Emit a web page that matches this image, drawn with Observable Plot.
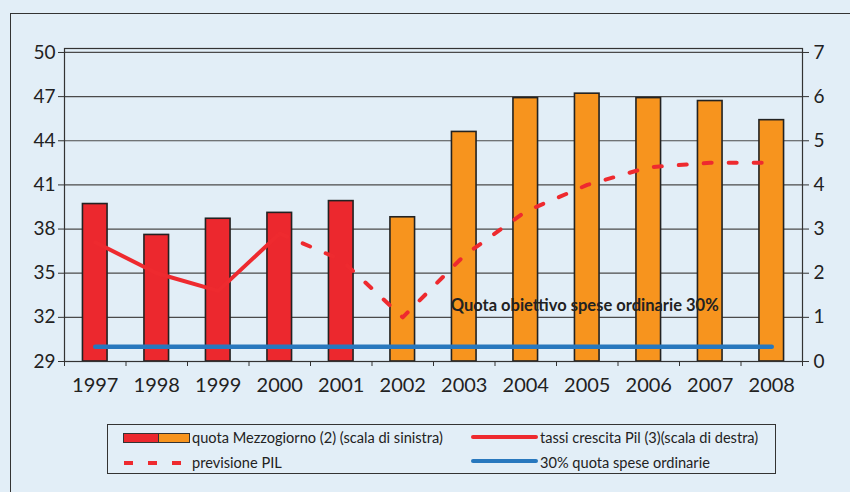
<!DOCTYPE html>
<html>
<head>
<meta charset="utf-8">
<script src="https://cdn.jsdelivr.net/npm/d3@7"></script>
<script src="https://cdn.jsdelivr.net/npm/@observablehq/plot@0.6"></script>
<style>
  html, body { margin: 0; padding: 0; background: #E2EEF7; }
  #wrap { position: relative; width: 850px; height: 492px; overflow: hidden; font-family: Lato, "Open Sans", sans-serif; color: #222; }
  #outer { position: absolute; left: 10px; top: 13px; width: 900px; height: 600px; border-left: 1.5px solid #333; border-top: 1.5px solid #333; }
  #chart { position: absolute; left: 0; top: 0; }
  #legend { position: absolute; left: 107px; top: 424px; width: 667px; height: 48px; border: 1.5px solid #333; }
  .item { position: absolute; font-size: 14.6px; line-height: 17px; white-space: nowrap; }
  .sw { position: absolute; }
</style>
</head>
<body>
<div id="wrap">
  <div id="outer"></div>
  <div id="chart"></div>
  <div id="legend"></div>
</div>
<script>
// ---- data ----
const years = ["1997","1998","1999","2000","2001","2002","2003","2004","2005","2006","2007","2008"];
const quotaMezzogiorno = [39.7, 37.6, 38.7, 39.1, 39.9, 38.8, 44.6, 46.9, 47.2, 46.9, 46.7, 45.4];
const lastConsuntivoYear = "2001";
const crescitaYears = ["1997","1998","1999","2000"];
const crescitaPil = [2.7, 2.0, 1.6, 2.9];
const previsioneYears = ["2000","2001","2002","2003","2004","2005","2006","2007","2008"];
const previsionePil = [2.9, 2.3, 1.0, 2.4, 3.4, 4.0, 4.4, 4.5, 4.5];
const quotaOrdinarieYears = ["1997","2008"];
const quotaOrdinarie = [30, 30];
const leftTicks = [29, 32, 35, 38, 41, 44, 47, 50];
const rightTicks = [0, 1, 2, 3, 4, 5, 6, 7];
const labelText = "Quota obiettivo spese ordinarie 30%";
const legendLabels = ["quota Mezzogiorno (2) (scala di sinistra)", "tassi crescita Pil (3)(scala di destra)", "previsione PIL", "30% quota spese ordinarie"];

// ---- styles ----
const RED = "#EC282E", ORANGE = "#F7941E", BLUE = "#2878BE", LINE_RED = "#EE2A2F";
const leftMin = 29, ratio = 3; // left = 29 + 3*right
const toLeft = r => leftMin + ratio * r;
const idx = y => years.indexOf(y);

const bars = years.map((y, i) => ({i, y, v: quotaMezzogiorno[i], fill: (+y <= +lastConsuntivoYear) ? RED : ORANGE}));
const cresc = crescitaYears.map((y, k) => ({x: idx(y) + 0.5, y: toLeft(crescitaPil[k])}));
const prev = previsioneYears.map((y, k) => ({x: idx(y) + 0.5, y: toLeft(previsionePil[k])}));
const blue = quotaOrdinarieYears.map((y, k) => ({x: idx(y) + 0.5, y: quotaOrdinarie[k]}));

const chart = Plot.plot({
  width: 850,
  height: 410,
  marginLeft: 64,
  marginRight: 48,
  marginTop: 48,
  marginBottom: 49,
  style: {background: "transparent", fontFamily: "Lato, 'Open Sans', sans-serif", color: "#222"},
  x: {type: "linear", domain: [0, years.length], axis: null, label: null},
  y: {domain: [leftMin, 50.27], axis: null, label: null},
  marks: [
    Plot.ruleY(leftTicks, {stroke: "#4a4a4a", strokeWidth: 1.2}),
    Plot.rectY(bars, {x1: d => d.i + 0.3, x2: d => d.i + 0.7, y1: leftMin, y2: "v", fill: "fill", stroke: "#222", strokeWidth: 1.6}),
    Plot.lineY(cresc, {x: "x", y: "y", stroke: LINE_RED, strokeWidth: 4}),
    Plot.lineY(prev, {x: "x", y: "y", stroke: LINE_RED, strokeWidth: 4, strokeDasharray: "8,17"}),
    Plot.lineY(blue, {x: "x", y: "y", stroke: BLUE, strokeWidth: 4.5, strokeLinecap: "round"}),
    Plot.text([labelText], {x: 6.28, y: 32.8, text: d => d, textAnchor: "start", fontSize: 16.5, fontWeight: "bold", fill: "#222"}),
    Plot.frame({stroke: "#333", strokeWidth: 1.2}),
    Plot.axisY(leftTicks, {anchor: "left", label: null, tickSize: 6, tickPadding: 3, fontSize: 19, stroke: "#333"}),
    Plot.axisY(leftTicks, {anchor: "right", label: null, tickSize: 6, tickPadding: 5, fontSize: 19, stroke: "#333", tickFormat: d => String(rightTicks[leftTicks.indexOf(d)])}),
    Plot.axisX(d3.range(0, years.length + 1), {anchor: "bottom", label: null, tickSize: 5, tickFormat: () => "", stroke: "#333"}),
    Plot.axisX(years.map((y, i) => i + 0.5), {anchor: "bottom", label: null, tickSize: 0, tickPadding: 16, fontSize: 20, tickFormat: d => years[Math.floor(d)]})
  ]
});
document.getElementById("chart").appendChild(chart);

// ---- legend (HTML) ----
const lg = document.getElementById("legend");
function add(html) { lg.insertAdjacentHTML("beforeend", html); }
add(`<div class="sw" style="left:15px;top:8px;width:34px;height:8px;background:${RED};border:1.2px solid #333;border-right:none"></div>`);
add(`<div class="sw" style="left:50px;top:8px;width:30px;height:8px;background:${ORANGE};border:1.2px solid #333"></div>`);
add(`<div class="item" style="left:84px;top:4px">${legendLabels[0]}</div>`);
add(`<div class="sw" style="left:16px;top:36px;width:66px;height:4px;background:repeating-linear-gradient(90deg, ${LINE_RED} 0 9px, transparent 9px 24px)"></div>`);
add(`<div class="item" style="left:84px;top:29px">${legendLabels[2]}</div>`);
add(`<div class="sw" style="left:363px;top:10px;width:67px;height:4px;border-radius:2px;background:${LINE_RED}"></div>`);
add(`<div class="item" style="left:432px;top:4px">${legendLabels[1]}</div>`);
add(`<div class="sw" style="left:363px;top:34px;width:67px;height:4px;border-radius:2px;background:${BLUE}"></div>`);
add(`<div class="item" style="left:432px;top:29px">${legendLabels[3]}</div>`);
</script>
</body>
</html>
